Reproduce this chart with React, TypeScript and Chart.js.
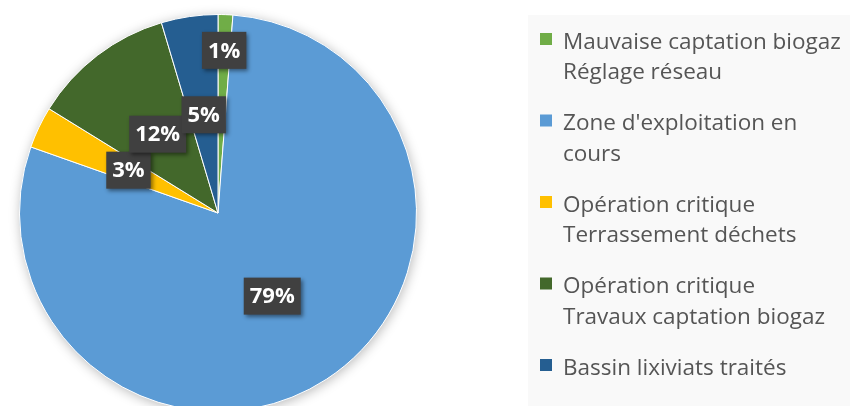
import React, { useEffect, useRef } from "react";
import { Chart, registerables } from "chart.js";

Chart.register(...registerables);

// ---- data ----
const categories: string[][] = [
  ["Mauvaise captation biogaz", "Réglage réseau"],
  ["Zone d'exploitation en", "cours"],
  ["Opération critique", "Terrassement déchets"],
  ["Opération critique", "Travaux captation biogaz"],
  ["Bassin lixiviats traités"],
];
const values: number[] = [1.2, 79.2, 3.4, 11.6, 4.6];
const colors: string[] = ["#70AD47", "#5B9BD5", "#FFC000", "#43682B", "#255E91"];

const W = 854;
const H = 426;

const bgPlugin = {
  id: "bgPlugin",
  beforeDraw(chart: any) {
    const ctx = chart.ctx;
    ctx.save();
    ctx.fillStyle = "#ffffff";
    ctx.fillRect(0, 0, chart.width, chart.height);
    ctx.fillStyle = "#f9f9f9";
    ctx.fillRect(528, 15, 322, chart.height - 15);
    ctx.restore();
  },
};

const shadowPlugin = {
  id: "shadowPlugin",
  beforeDatasetsDraw(chart: any) {
    const meta = chart.getDatasetMeta(0);
    const el = meta.data[0];
    if (!el) return;
    const { x, y, outerRadius } = el.getProps(["x", "y", "outerRadius"], true);
    const ctx = chart.ctx;
    ctx.save();
    ctx.shadowColor = "rgba(0,0,0,0.28)";
    ctx.shadowBlur = 12;
    ctx.shadowOffsetX = 1;
    ctx.shadowOffsetY = 2;
    ctx.fillStyle = "#ffffff";
    ctx.beginPath();
    ctx.arc(x, y, outerRadius, 0, Math.PI * 2);
    ctx.fill();
    ctx.restore();
  },
};

const labelPlugin = {
  id: "labelPlugin",
  afterDatasetsDraw(chart: any) {
    const meta = chart.getDatasetMeta(0);
    const data: number[] = chart.data.datasets[0].data;
    const total = data.reduce((a, b) => a + b, 0);
    const ctx = chart.ctx;
    ctx.save();
    ctx.font = 'bold 22px "Open Sans"';
    ctx.textAlign = "center";
    ctx.textBaseline = "middle";
    meta.data.forEach((el: any, i: number) => {
      const p = el.getProps(["x", "y", "startAngle", "endAngle", "outerRadius"], true);
      const share = data[i] / total;
      const mid = (p.startAngle + p.endAngle) / 2;
      const frac = share < 0.02 ? 0.82 : 0.5;
      const cx = p.x + Math.cos(mid) * p.outerRadius * frac;
      const cy = p.y + Math.sin(mid) * p.outerRadius * frac;
      const text = Math.round(share * 100) + "%";
      const tw = ctx.measureText(text).width;
      const bw = tw + 12;
      const bh = 37;
      ctx.save();
      ctx.shadowColor = "rgba(0,0,0,0.45)";
      ctx.shadowBlur = 4;
      ctx.shadowOffsetX = 2;
      ctx.shadowOffsetY = 2;
      ctx.fillStyle = "#404040";
      ctx.fillRect(cx - bw / 2, cy - bh / 2, bw, bh);
      ctx.restore();
      ctx.fillStyle = "#ffffff";
      ctx.fillText(text, cx, cy + 1);
    });
    ctx.restore();
  },
};

const legendPlugin = {
  id: "legendPlugin",
  afterDraw(chart: any) {
    const ctx = chart.ctx;
    const labels: string[][] = chart.data.labels;
    const bg: string[] = chart.data.datasets[0].backgroundColor;
    const lineH = 30.5;
    const gap = 20.5;
    let top = 33;
    ctx.save();
    ctx.font = '22.5px "Open Sans"';
    ctx.textAlign = "left";
    ctx.textBaseline = "alphabetic";
    labels.forEach((lines, i) => {
      ctx.fillStyle = bg[i];
      ctx.fillRect(540, top, 12, 12);
      ctx.fillStyle = "#555555";
      lines.forEach((line, j) => {
        ctx.fillText(line, 563, top + 15.5 + j * lineH);
      });
      top += lines.length * lineH + gap;
    });
    ctx.restore();
  },
};

export default function App() {
  const ref = useRef<HTMLCanvasElement | null>(null);
  useEffect(() => {
    if (!ref.current) return;
    const chart = new Chart(ref.current, {
      type: "pie",
      data: {
        labels: categories as any,
        datasets: [
          {
            data: values,
            backgroundColor: colors,
            borderColor: "#ffffff",
            borderWidth: 1,
          },
        ],
      },
      options: {
        responsive: false,
        animation: false,
        layout: { padding: { left: 19, right: W - 19 - 398, top: 14, bottom: H - 14 - 398 } },
        plugins: {
          legend: { display: false },
          tooltip: { enabled: false },
        },
      },
      plugins: [bgPlugin, shadowPlugin, labelPlugin, legendPlugin],
    });
    return () => chart.destroy();
  }, []);
  return (
    <div
      style={{
        position: "fixed",
        left: 0,
        top: 0,
        width: W,
        height: 406,
        overflow: "hidden",
        background: "#ffffff",
      }}
    >
      <canvas ref={ref} width={W} height={H} style={{ display: "block", width: W, height: H }} />
    </div>
  );
}
